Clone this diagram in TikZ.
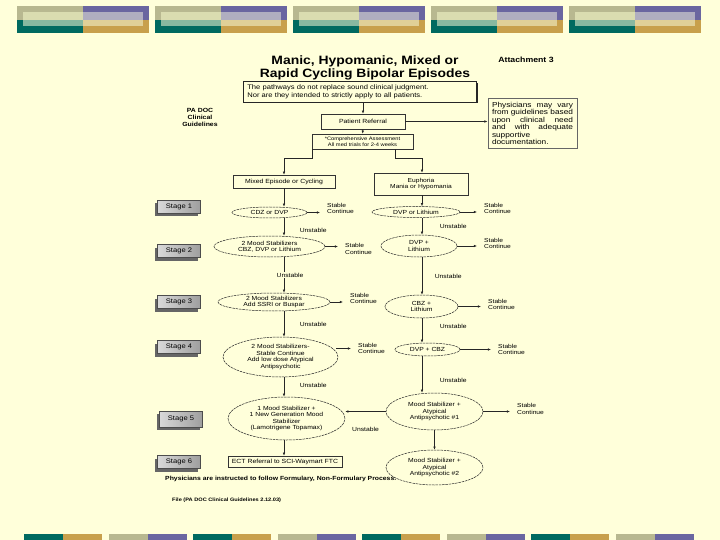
\documentclass[tikz,border=0pt]{standalone}
\usepackage{fontspec}
\setmainfont{Liberation Sans}[FakeStretch=1.15]
\usetikzlibrary{arrows.meta, positioning, shapes.geometric, shadows}

\definecolor{bgcream}{HTML}{FFFFDA}
\definecolor{barolive}{HTML}{B8B890}
\definecolor{barcream}{HTML}{DADCB0}
\definecolor{barteal}{HTML}{006A60}
\definecolor{barltteal}{HTML}{88B8A0}
\definecolor{barpurple}{HTML}{6A66A0}
\definecolor{barlav}{HTML}{B0AEC0}
\definecolor{bargold}{HTML}{C8A04C}
\definecolor{barltgold}{HTML}{E0D098}

\begin{document}
\begin{tikzpicture}[x=1pt, y=-1pt, >={Latex[length=3.2pt,width=2.6pt]},
    box/.style={rectangle, draw=black!80, line width=0.5pt, fill=bgcream, inner sep=1pt, align=center, font=\fontsize{6}{6.6}\selectfont},
    oval/.style={ellipse, draw=black!85, line width=0.5pt, dash pattern=on 2.5pt off 0.8pt, inner sep=0pt, align=center, font=\fontsize{5.9}{6.5}\selectfont},
    stagebox/.style={rectangle, draw=black!70, line width=0.4pt, left color=black!15, right color=black!38, minimum width=43pt, minimum height=13pt, inner sep=0pt, font=\fontsize{6.6}{7}\selectfont, drop shadow={shadow xshift=-3pt, shadow yshift=-3pt, fill=black!60, opacity=1}},
    stable/.style={anchor=west, align=left, inner sep=0pt, font=\fontsize{5.8}{6.8}\selectfont},
    unstable/.style={anchor=west, inner sep=0.5pt, font=\fontsize{5.9}{6.8}\selectfont},
    flow/.style={->, line width=0.6pt, draw=black!85},
    tostable/.style={flow, shorten >=7pt}]

    % page and bars
    \useasboundingbox (0,0) rectangle (720,540);
    \fill[bgcream] (0,0) rectangle (720,540);
    \foreach \bx in {17,155,293,431,569}{
        \fill[barolive] (\bx,6) rectangle ++(66,14);
        \fill[barteal] (\bx,20) rectangle ++(66,13);
        \fill[barcream] (\bx+6,12) rectangle ++(60,8);
        \fill[barltteal] (\bx+6,20) rectangle ++(60,6);
        \fill[barpurple] (\bx+66,6) rectangle ++(66,14);
        \fill[bargold] (\bx+66,20) rectangle ++(66,13);
        \fill[barlav] (\bx+66,12) rectangle ++(60,8);
        \fill[barltgold] (\bx+66,20) rectangle ++(60,6);
    }
    \foreach \bx/\ca/\cb in {24/barteal/bargold, 108.5/barolive/barpurple, 193/barteal/bargold, 277.5/barolive/barpurple,
                             362/barteal/bargold, 446.5/barolive/barpurple, 531/barteal/bargold, 615.5/barolive/barpurple}{
        \fill[\ca] (\bx,534) rectangle ++(39,6);
        \fill[\cb] (\bx+39,534) rectangle ++(39,6);
    }

    % headings
    \node[font=\bfseries\fontsize{12.1}{13}\selectfont, align=center] (title) at (365,67.5) {Manic, Hypomanic, Mixed or\\Rapid Cycling Bipolar Episodes};
    \node[font=\bfseries\fontsize{7.6}{8}\selectfont] (attach) at (526,60) {Attachment 3};
    \node[font=\bfseries\fontsize{6}{7}\selectfont, align=center] (padoc) at (200,117) {PA DOC\\Clinical\\Guidelines};

    \node[rectangle, draw=black!85, line width=0.6pt, fill=bgcream, anchor=north west, text width=225pt, align=left, inner xsep=4pt, inner ysep=3.5pt,
          font=\fontsize{6.6}{7.5}\selectfont, drop shadow={shadow xshift=1.5pt, shadow yshift=-1.5pt, fill=black!85, opacity=1}]
        (disclaimer) at (243,81) {The pathways do not replace sound clinical judgment.\\Nor are they intended to strictly apply to all patients.\\[2pt]};
    \node[box, minimum width=84pt, minimum height=15pt] (referral) at (363,121.5) {Patient Referral};
    \node[rectangle, draw=black!60, line width=0.9pt, fill=bgcream, text width=81pt, align=left, inner xsep=4pt, inner ysep=4pt,
          font=\fontsize{7.2}{7.4}\selectfont] (phys) at (532.5,123.5)
        {\makebox[81pt]{Physicians\hfill may\hfill vary}\\\makebox[81pt]{from\hfill guidelines\hfill based}\\\makebox[81pt]{upon\hfill clinical\hfill need}\\
         \makebox[81pt]{and\hfill with\hfill adequate}\\supportive\\documentation.};
    \node[box, minimum width=101pt, minimum height=15pt, font=\fontsize{5}{6}\selectfont] (assess) at (362.5,141.5) {*Comprehensive Assessment\\All med trials for 2-4 weeks};

    \node[box, minimum width=102pt, minimum height=13pt] (mixed) at (284,181.5) {Mixed Episode or Cycling};
    \node[box, minimum width=94pt, minimum height=22pt, font=\fontsize{5.8}{6.2}\selectfont] (euph) at (421,184) {Euphoria\\Mania or Hypomania};

    % stages
    \node[stagebox] (stage1) at (179,207) {Stage 1};
    \node[stagebox] (stage2) at (179,251) {Stage 2};
    \node[stagebox] (stage3) at (179,302) {Stage 3};
    \node[stagebox] (stage4) at (179,347) {Stage 4};
    \node[stagebox, minimum height=16pt] (stage5) at (181,419) {Stage 5};
    \node[stagebox] (stage6) at (179,462) {Stage 6};

    % left pathway
    \node[oval, minimum width=75pt, minimum height=11pt] (cdzdvp) at (269.5,212.5) {CDZ or DVP};
    \node[oval, minimum width=111pt, minimum height=21pt] (twomsA) at (269.5,246.5) {2 Mood Stabilizers\\CBZ, DVP or Lithium};
    \node[oval, minimum width=112pt, minimum height=18pt] (twomsB) at (274,302) {2 Mood Stabilizers\\Add SSRI or Buspar};
    \node[oval, minimum width=115pt, minimum height=40pt] (twomsC) at (280.5,357) {2 Mood Stabilizers-\\Stable Continue\\Add low dose Atypical\\Antipsychotic};
    \node[oval, minimum width=117pt, minimum height=43pt] (onems) at (286.5,418.5) {1 Mood Stabilizer +\\1 New Generation Mood\\Stabilizer\\(Lamotrigene Topamax)};
    \node[box, minimum width=114pt, minimum height=11pt] (ect) at (285,461.5) {ECT Referral to SCI-Waymart FTC};

    % right pathway
    \node[oval, minimum width=88pt, minimum height=11pt] (dvpli) at (416,212) {DVP or Lithium};
    \node[oval, minimum width=76pt, minimum height=22pt] (dvpplus) at (419,246) {DVP +\\Lithium};
    \node[oval, minimum width=73pt, minimum height=23pt] (cbzplus) at (421.5,306.5) {CBZ +\\Lithium};
    \node[oval, minimum width=65pt, minimum height=13pt] (dvpcbz) at (427.5,349.5) {DVP + CBZ};
    \node[oval, minimum width=97pt, minimum height=37pt] (atypA) at (434.5,411.5) {Mood Stabilizer +\\Atypical\\Antipsychotic \#1};
    \node[oval, minimum width=97pt, minimum height=35pt] (atypB) at (434.5,467.5) {Mood Stabilizer +\\Atypical\\Antipsychotic \#2};

    % stable outcomes
    \node[stable] (stL1) at (327,208.5) {Stable\\Continue};
    \node[stable] (stL2) at (345,249) {Stable\\Continue};
    \node[stable] (stL3) at (350,298.5) {Stable\\Continue};
    \node[stable] (stL4) at (358,348.5) {Stable\\Continue};
    \node[stable] (stR1) at (484,208.5) {Stable\\Continue};
    \node[stable] (stR2) at (484,243.5) {Stable\\Continue};
    \node[stable] (stR3) at (488,304.5) {Stable\\Continue};
    \node[stable] (stR4) at (498,349.5) {Stable\\Continue};
    \node[stable] (stR5) at (517,409) {Stable\\Continue};

    % footnotes
    \node[anchor=west, inner sep=0pt, font=\bfseries\fontsize{5.95}{6.5}\selectfont] (formulary) at (165,479) {Physicians are instructed to follow Formulary, Non-Formulary Process.};
    \node[anchor=west, inner sep=0pt, font=\bfseries\fontsize{4.9}{5.4}\selectfont] (filenote) at (172,500) {File (PA DOC Clinical Guidelines 2.12.03)};

    % connectors
    \coordinate (laxis) at (284,0);
    \coordinate (raxis) at (422,0);
    \coordinate (splitL) at (312,158);
    \coordinate (splitR) at (395,158);

    \draw[flow] (disclaimer.south -| referral.north) -- (referral.north);
    \draw[flow] (referral.east) -- (referral.east -| phys.west);
    \draw[flow] (referral) -- (assess);
    \draw[flow] (assess.south -| splitL) -- (splitL) -| (mixed.north -| laxis);
    \draw[flow] (assess.south -| splitR) -- (splitR) -| (euph.north -| raxis);

    \draw[flow] (mixed.south -| laxis) -- (cdzdvp.north -| laxis);
    \draw[flow] (cdzdvp.south -| laxis) -- node[unstable, xshift=15pt, yshift=-3pt] {Unstable} (twomsA.north -| laxis);
    \draw[flow] (twomsA.south -| laxis) -- node[unstable, anchor=center, fill=bgcream, xshift=6pt] {Unstable} (twomsB.north -| laxis);
    \draw[flow] (twomsB.south -| laxis) -- node[unstable, xshift=15pt] {Unstable} (twomsC.north -| laxis);
    \draw[flow] (twomsC.south -| laxis) -- node[unstable, xshift=15pt, yshift=2pt] {Unstable} (onems.north -| laxis);
    \draw[flow] (onems.south -| laxis) -- (ect.north -| laxis);

    \draw[flow] (euph.south -| raxis) -- (dvpli.north -| raxis);
    \draw[flow] (dvpli.south -| raxis) -- node[unstable, xshift=17pt] {Unstable} (dvpplus.north -| raxis);
    \draw[flow] (dvpplus.south -| raxis) -- node[unstable, xshift=12pt] {Unstable} (cbzplus.north -| raxis);
    \draw[flow] (cbzplus.south -| raxis) -- node[unstable, xshift=17pt, yshift=4.5pt] {Unstable} (dvpcbz.north -| raxis);
    \draw[flow] (dvpcbz.south -| raxis) -- node[unstable, xshift=17pt, yshift=-5.5pt] {Unstable} (atypA.north -| raxis);
    \draw[flow] (atypA.south) -- (atypB.north);
    \draw[flow] (atypA.west) -- node[unstable, anchor=center, yshift=-18pt] {Unstable} (atypA.west -| onems.east);

    \draw[tostable] (cdzdvp.east) -- (cdzdvp.east -| stL1.west);
    \draw[tostable] (twomsA.east) -- (twomsA.east -| stL2.west);
    \draw[tostable] (twomsB.east) -- (twomsB.east -| stL3.west);
    \draw[tostable] (twomsC.east |- stL4.west) ++(-2,0) -- (stL4.west);
    \draw[tostable] (dvpli.east) -- (dvpli.east -| stR1.west);
    \draw[tostable] (dvpplus.east) -- (dvpplus.east -| stR2.west);
    \draw[tostable] (cbzplus.east) -- (cbzplus.east -| stR3.west);
    \draw[tostable] (dvpcbz.east) -- (dvpcbz.east -| stR4.west);
    \draw[tostable] (atypA.east) -- (atypA.east -| stR5.west);
\end{tikzpicture}
\end{document}
